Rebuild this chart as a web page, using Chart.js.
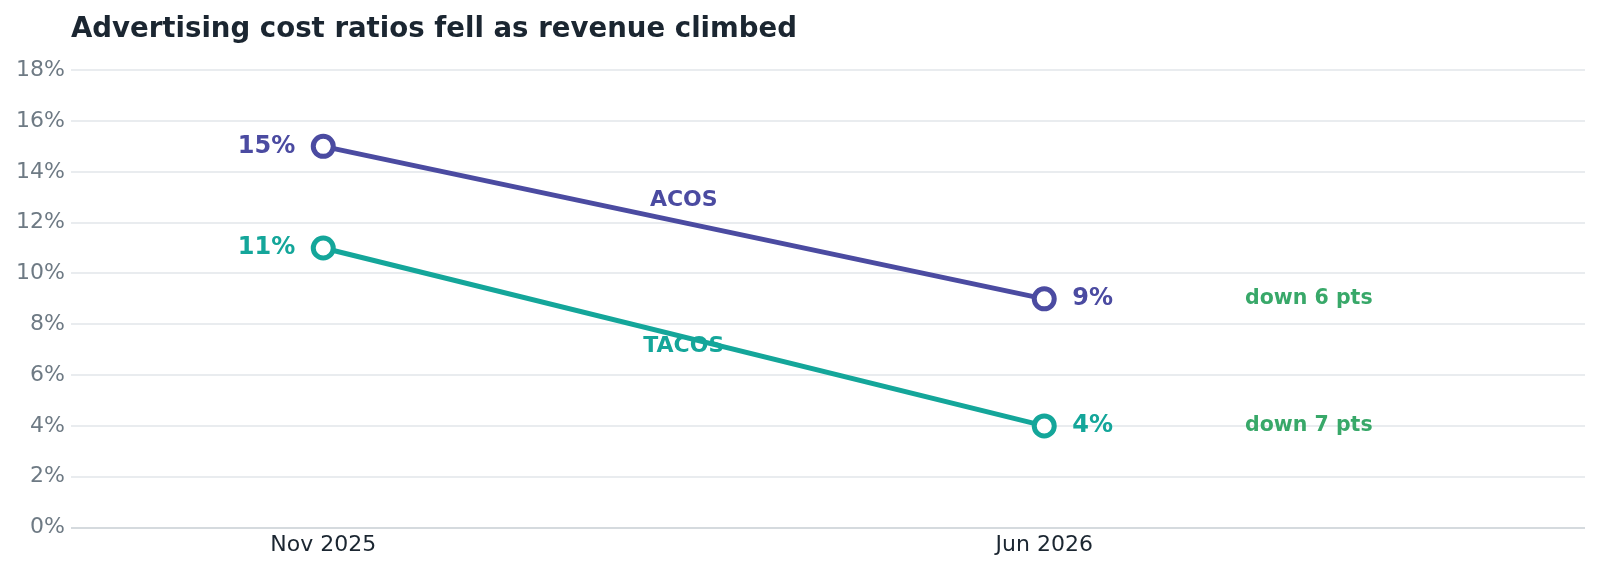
<!DOCTYPE html>
<html>
<head>
<meta charset="utf-8">
<script src="https://cdn.jsdelivr.net/npm/chart.js@4.4.1/dist/chart.umd.min.js"></script>
<style>
  html, body { margin: 0; padding: 0; background: #ffffff; overflow: hidden; }
</style>
</head>
<body>
<canvas id="graph" width="1600" height="569"></canvas>
<script>
const periods = ['Nov 2025', 'Jun 2026'];
const acos = [15, 9];
const tacos = [11, 4];
const seriesNames = ['ACOS', 'TACOS'];
const changeNotes = ['down 6 pts', 'down 7 pts'];
const yTicks = [0, 2, 4, 6, 8, 10, 12, 14, 16, 18];

const purple = '#4b4ba1';
const teal = '#14a69a';
const green = '#38a869';

const canvas = document.getElementById('graph');

function toPoints(values) {
    return values.map((v, i) => ({ x: i, y: v }));
}

// series names go under the lines, value labels and notes on top
const labelPlugin = {
    id: 'labels',
    beforeDatasetsDraw(chart) {
        const ctx = chart.ctx;
        const xs = chart.scales.x;
        const ys = chart.scales.y;
        ctx.save();
        ctx.textBaseline = 'middle';
        ctx.textAlign = 'center';
        ctx.font = 'bold 22px "DejaVu Sans"';
        chart.data.datasets.forEach((ds, d) => {
            const vals = ds.data.map(p => p.y);
            const mid = (vals[0] + vals[1]) / 2;
            const off = d === 0 ? -22 : 9;
            ctx.fillStyle = ds.borderColor;
            ctx.fillText(seriesNames[d], xs.getPixelForValue(0.5), ys.getPixelForValue(mid) + off);
        });
        ctx.restore();
    },
    afterDatasetsDraw(chart) {
        const ctx = chart.ctx;
        const xs = chart.scales.x;
        const ys = chart.scales.y;
        ctx.save();
        ctx.textBaseline = 'middle';
        chart.data.datasets.forEach((ds, d) => {
            const vals = ds.data.map(p => p.y);
            ctx.fillStyle = ds.borderColor;
            ctx.font = 'bold 24px "DejaVu Sans"';
            ctx.textAlign = 'right';
            ctx.fillText(vals[0] + '%', xs.getPixelForValue(0) - 28, ys.getPixelForValue(vals[0]));
            ctx.textAlign = 'left';
            ctx.fillText(vals[1] + '%', xs.getPixelForValue(1) + 28, ys.getPixelForValue(vals[1]));

            ctx.fillStyle = green;
            ctx.font = 'bold 20.5px "DejaVu Sans"';
            ctx.textAlign = 'center';
            ctx.fillText(changeNotes[d], xs.getPixelForValue(1.367), ys.getPixelForValue(vals[1]));
        });
        ctx.restore();
    }
};

new Chart(canvas, {
    type: 'line',
    data: {
        datasets: [
            {
                label: seriesNames[0],
                data: toPoints(acos),
                borderColor: purple,
                backgroundColor: '#ffffff',
                borderWidth: 5,
                pointRadius: 10,
                pointBorderWidth: 5,
                pointBackgroundColor: '#ffffff',
                pointBorderColor: purple
            },
            {
                label: seriesNames[1],
                data: toPoints(tacos),
                borderColor: teal,
                backgroundColor: '#ffffff',
                borderWidth: 5,
                pointRadius: 10,
                pointBorderWidth: 5,
                pointBackgroundColor: '#ffffff',
                pointBorderColor: teal
            }
        ]
    },
    options: {
        responsive: false,
        animation: false,
        devicePixelRatio: 1,
        layout: { padding: { left: 10, right: 13, top: 7, bottom: 7 } },
        plugins: {
            legend: { display: false },
            tooltip: { enabled: false },
            title: {
                display: true,
                text: 'Advertising cost ratios fell as revenue climbed',
                align: 'start',
                fullSize: false,
                color: '#1b2631',
                font: { family: 'DejaVu Sans', size: 27.6, weight: 'bold' },
                padding: { top: 6, bottom: 24 }
            }
        },
        scales: {
            x: {
                type: 'linear',
                min: -0.35,
                max: 1.75,
                afterBuildTicks(axis) {
                    axis.ticks = periods.map((p, i) => ({ value: i }));
                },
                ticks: {
                    callback: (v) => periods[v],
                    color: '#1b2631',
                    font: { family: 'DejaVu Sans', size: 22 },
                    padding: 4
                },
                grid: { display: false, drawTicks: false },
                border: { display: false }
            },
            y: {
                min: 0,
                max: 18,
                afterBuildTicks(axis) {
                    axis.ticks = yTicks.map(v => ({ value: v }));
                },
                ticks: {
                    callback: (v) => v + '%',
                    color: '#6e7a84',
                    font: { family: 'DejaVu Sans', size: 22 },
                    padding: 6
                },
                grid: {
                    color: (c) => c.tick.value === 0 ? '#d5dade' : '#e9ecef',
                    lineWidth: 2,
                    drawTicks: false
                },
                border: { display: false }
            }
        }
    },
    plugins: [labelPlugin]
});
</script>
</body>
</html>
